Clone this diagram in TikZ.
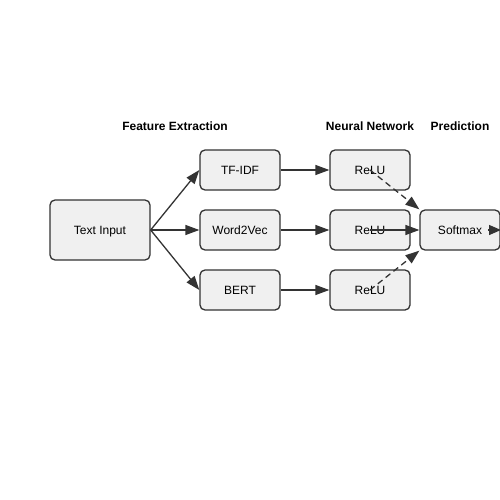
\documentclass[tikz,border=0pt]{standalone}
\usepackage{fontspec}
\setmainfont{Liberation Sans}
\usetikzlibrary{arrows.meta}
\definecolor{boxfill}{HTML}{F0F0F0}
\definecolor{edge}{HTML}{333333}
\begin{document}
\begin{tikzpicture}[x=1pt,y=-1pt,
  box/.style={draw=edge,fill=boxfill,line width=1.3pt,rounded corners=5pt,inner sep=0pt,
    font=\fontsize{12}{14}\selectfont,text=black,text depth=0pt},
  conn/.style={draw=edge,line width=1.3pt,-{Triangle[length=14pt,width=10pt]}},
  outconn/.style={draw=edge,line width=1.3pt,-{Triangle[length=12pt,width=10pt]}},
  dashy/.style={dash pattern=on 6pt off 4pt},
  title/.style={font=\fontsize{12}{14}\selectfont\bfseries,text=black}]
\useasboundingbox (0,0) rectangle (500,500);
\node[box,minimum width=100pt,minimum height=60pt] (inp) at (100,230) {Text Input};
\node[box,minimum width=80pt,minimum height=40pt] (tfidf) at (240,170) {TF-IDF};
\node[box,minimum width=80pt,minimum height=40pt] (w2v) at (240,230) {Word2Vec};
\node[box,minimum width=80pt,minimum height=40pt] (bert) at (240,290) {BERT};
\node[box,minimum width=80pt,minimum height=40pt] (r1) at (370,170) {ReLU};
\node[box,minimum width=80pt,minimum height=40pt] (r2) at (370,230) {ReLU};
\node[box,minimum width=80pt,minimum height=40pt] (r3) at (370,290) {ReLU};
\node[box,minimum width=80pt,minimum height=40pt] (soft) at (460,230) {Softmax};
\node[title] (t1) at (175,126) {Feature Extraction};
\node[title] (t2) at (370,126) {Neural Network};
\node[title] (t3) at (460,126) {Prediction};
\coordinate (o1) at (488,230);
\coordinate (o2) at (501,230);
\draw[conn] (inp.east) -- (tfidf.west);
\draw[conn] (inp.east) -- (w2v.west);
\draw[conn] (inp.east) -- (bert.west);
\draw[conn] (tfidf.east) -- (r1.west);
\draw[conn] (w2v.east) -- (r2.west);
\draw[conn] (bert.east) -- (r3.west);
\draw[conn,dashy] (r1.center) -- (soft.north west);
\draw[conn] (r2.center) -- (soft.west);
\draw[conn,dashy] (r3.center) -- (soft.south west);
\draw[outconn] (o1) -- (o2);
\end{tikzpicture}
\end{document}
